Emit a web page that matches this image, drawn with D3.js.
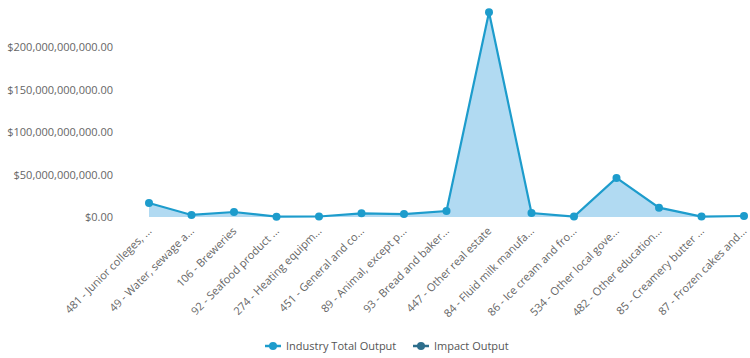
<!DOCTYPE html>
<html>
<head>
<meta charset="utf-8">
<script src="https://cdn.jsdelivr.net/npm/d3@7"></script>
<style>
  body { margin: 0; background: #fff; font-family: "Open Sans", sans-serif; }
  .axis text { fill: #666; font-size: 11px; font-family: "Open Sans", sans-serif; }
  .axis path, .axis line { display: none; }
  .legend text { fill: #555; font-size: 11px; }
</style>
</head>
<body>
<div id="chart"></div>
<script>
const categories = [
  "481 - Junior colleges, ...",
  "49 - Water, sewage a...",
  "106 - Breweries",
  "92 - Seafood product ...",
  "274 - Heating equipm...",
  "451 - General and co...",
  "89 - Animal, except p...",
  "93 - Bread and baker...",
  "447 - Other real estate",
  "84 - Fluid milk manufa...",
  "86 - Ice cream and fro...",
  "534 - Other local gove...",
  "482 - Other education...",
  "85 - Creamery butter ...",
  "87 - Frozen cakes and..."
];
// industry total output, dollars
const totalOutput = [
  16.5e9, 2.4e9, 5.9e9, 0.4e9, 0.6e9, 4.3e9, 3.5e9, 7.0e9,
  241e9, 4.7e9, 0.6e9, 46e9, 11e9, 0.5e9, 1.2e9
];
const yTicks = [0, 50e9, 100e9, 150e9, 200e9];
const seriesNames = ["Industry Total Output", "Impact Output"];
const seriesColors = ["#1d9ccc", "#2d6e8c"];

const w = 750, h = 358;
const svg = d3.select("#chart").append("svg").attr("width", w).attr("height", h);

const x = d3.scalePoint().domain(categories).range([149, 744]);
const y = d3.scaleLinear().domain([0, 200e9]).range([217, 47]);

const fmt = (v) => "$" + d3.format(",.2f")(v);

svg.append("g")
  .attr("class", "axis")
  .attr("transform", "translate(113,0)")
  .call(d3.axisLeft(y).tickValues(yTicks).tickFormat(fmt).tickSize(0).tickPadding(0))
  .selectAll("text").attr("dy", "0.35em");

const xAxis = svg.append("g")
  .attr("class", "axis")
  .attr("transform", "translate(0,229)")
  .call(d3.axisBottom(x).tickSize(0).tickPadding(0));
xAxis.selectAll("text")
  .attr("text-anchor", "end")
  .attr("y", 0)
  .attr("dy", "0.35em")
  .attr("transform", "rotate(-45)");

const area = d3.area()
  .x((d, i) => x(categories[i]))
  .y0(y(0))
  .y1((d) => y(d));
const line = d3.line()
  .x((d, i) => x(categories[i]))
  .y((d) => y(d));

svg.append("path").datum(totalOutput)
  .attr("d", area)
  .attr("fill", "#a9d6f1")
  .attr("opacity", 0.9);
svg.append("path").datum(totalOutput)
  .attr("d", line)
  .attr("fill", "none")
  .attr("stroke", seriesColors[0])
  .attr("stroke-width", 2.2);
svg.selectAll("circle.pt").data(totalOutput).enter().append("circle")
  .attr("class", "pt")
  .attr("cx", (d, i) => x(categories[i]))
  .attr("cy", (d) => y(d))
  .attr("r", 4)
  .attr("fill", seriesColors[0]);

// legend
const legend = svg.append("g").attr("class", "legend");
const legX = [265, 413];
seriesNames.forEach((name, i) => {
  const g = legend.append("g").attr("transform", "translate(" + legX[i] + ",346)");
  g.append("line").attr("x1", 0).attr("x2", 16).attr("stroke", seriesColors[i]).attr("stroke-width", 2.5);
  g.append("circle").attr("cx", 8).attr("r", 4).attr("fill", seriesColors[i]);
  g.append("text").attr("x", 21).attr("dy", "0.35em").text(name);
});
</script>
</body>
</html>
